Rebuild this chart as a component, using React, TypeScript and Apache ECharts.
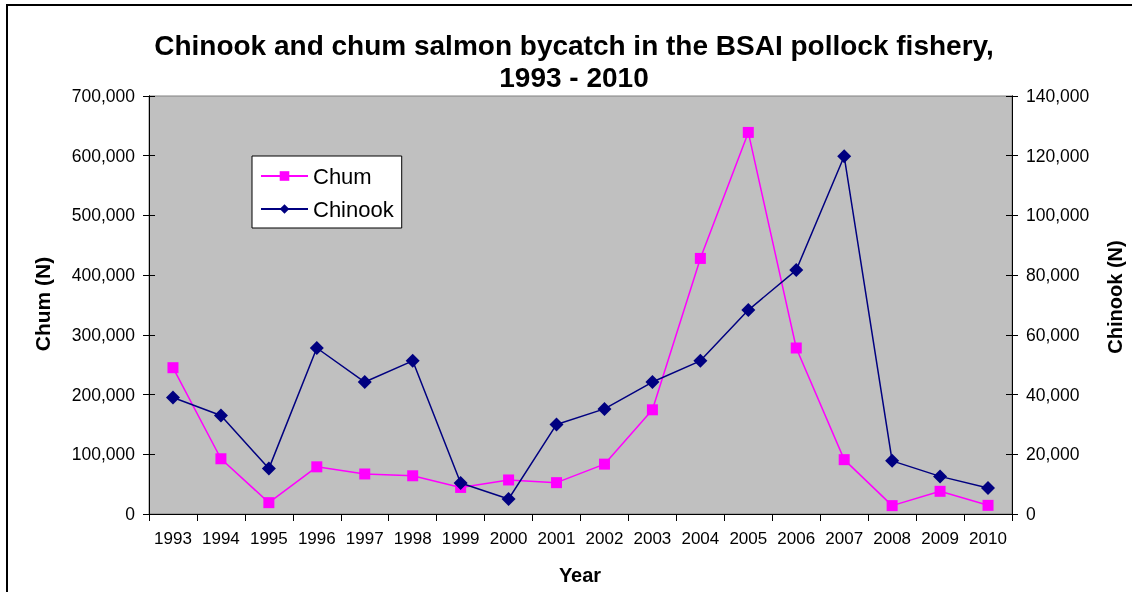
import React, { useEffect, useRef } from "react";
import * as echarts from "echarts";

const years = ["1993","1994","1995","1996","1997","1998","1999","2000","2001","2002","2003","2004","2005","2006","2007","2008","2009","2010"];
const chum = [245000, 92500, 19000, 79000, 67000, 64000, 44500, 57000, 52500, 83500, 174500, 428000, 639000, 278000, 91000, 14000, 38000, 14500];
const chinook = [39000, 33000, 15200, 55600, 44200, 51300, 10400, 5000, 30000, 35200, 44200, 51300, 68300, 81700, 119800, 17800, 12600, 8700];

const titleLines = ["Chinook and chum salmon bycatch in the BSAI pollock fishery,", "1993 - 2010"];
const leftName = "Chum (N)";
const rightName = "Chinook (N)";
const xName = "Year";

const FONT = "'Liberation Sans', Arial, sans-serif";
const fmt = (v: number) => v.toLocaleString("en-US");

export default function App() {
  const ref = useRef<HTMLDivElement>(null);
  useEffect(() => {
    if (!ref.current) return;
    const chart = echarts.init(ref.current, null, { renderer: "svg" });
    const grid = { left: 149, right: 120, top: 96, bottom: 78 };
    const valueAxisBase = (pos: "left" | "right", max: number, interval: number, inside: boolean, showLabel: boolean) => ({
      type: "value",
      position: pos,
      min: 0,
      max,
      interval,
      splitLine: { show: false },
      axisLine: { show: true, lineStyle: { color: "#000", width: 1 } },
      axisTick: { show: true, inside, length: 6, lineStyle: { color: "#000", width: 1 } },
      axisLabel: {
        show: showLabel,
        margin: 14,
        color: "#000",
        fontFamily: FONT,
        fontSize: 17.5,
        formatter: fmt,
      },
    });
    chart.setOption({
      animation: false,
      textStyle: { fontFamily: FONT },
      grid: { ...grid, show: true, backgroundColor: "#C0C0C0", borderColor: "#808080", borderWidth: 1 },
      legend: {
        left: 252,
        top: 156,
        orient: "vertical",
        backgroundColor: "#fff",
        borderColor: "#000",
        borderWidth: 1,
        borderRadius: 0,
        padding: [9, 8, 8, 8],
        itemGap: 11,
        itemWidth: 47,
        itemHeight: 12,
        textStyle: { fontFamily: FONT, fontSize: 22, color: "#000" },
        data: ["Chum", "Chinook"],
      },
      xAxis: {
        type: "category",
        data: years,
        boundaryGap: true,
        axisLine: { lineStyle: { color: "#000", width: 1 } },
        axisTick: { show: true, length: 7, alignWithLabel: false, lineStyle: { color: "#000" } },
        axisLabel: { interval: 0, margin: 16, color: "#000", fontFamily: FONT, fontSize: 17 },
        splitLine: { show: false },
      },
      yAxis: [
        valueAxisBase("left", 700000, 100000, false, true),
        valueAxisBase("right", 140000, 20000, false, true),
        valueAxisBase("left", 700000, 100000, true, false),
        valueAxisBase("right", 140000, 20000, true, false),
      ],
      series: [
        {
          name: "Chum",
          type: "line",
          yAxisIndex: 0,
          data: chum,
          symbol: "rect",
          symbolSize: 11,
          itemStyle: { color: "#FF00FF" },
          lineStyle: { color: "#FF00FF", width: 1.5 },
          z: 3,
        },
        {
          name: "Chinook",
          type: "line",
          yAxisIndex: 1,
          data: chinook,
          symbol: "diamond",
          symbolSize: 14,
          itemStyle: { color: "#000080" },
          lineStyle: { color: "#000080", width: 1.5 },
          z: 4,
        },
      ],
      graphic: [
        {
          type: "rect",
          shape: { x: 7, y: 5, width: 1200, height: 700 },
          style: { fill: "none", stroke: "#000", lineWidth: 2 },
          silent: true,
        },
        {
          type: "text",
          x: 574,
          y: 45,
          style: { text: titleLines[0], align: "center", verticalAlign: "middle", font: `bold 28px ${FONT}`, fill: "#000" },
        },
        {
          type: "text",
          x: 574,
          y: 77,
          style: { text: titleLines[1], align: "center", verticalAlign: "middle", font: `bold 28px ${FONT}`, fill: "#000" },
        },
        {
          type: "text",
          x: 42,
          y: 304,
          rotation: Math.PI / 2,
          style: { text: leftName, align: "center", verticalAlign: "middle", font: `bold 21px ${FONT}`, fill: "#000" },
        },
        {
          type: "text",
          x: 1115,
          y: 297,
          rotation: Math.PI / 2,
          style: { text: rightName, align: "center", verticalAlign: "middle", font: `bold 20px ${FONT}`, fill: "#000" },
        },
        {
          type: "text",
          x: 580,
          y: 575,
          style: { text: xName, align: "center", verticalAlign: "middle", font: `bold 20px ${FONT}`, fill: "#000" },
        },
      ],
    });
    return () => chart.dispose();
  }, []);
  return <div ref={ref} style={{ position: "fixed", left: 0, top: 0, width: 1132, height: 592 }} />;
}
